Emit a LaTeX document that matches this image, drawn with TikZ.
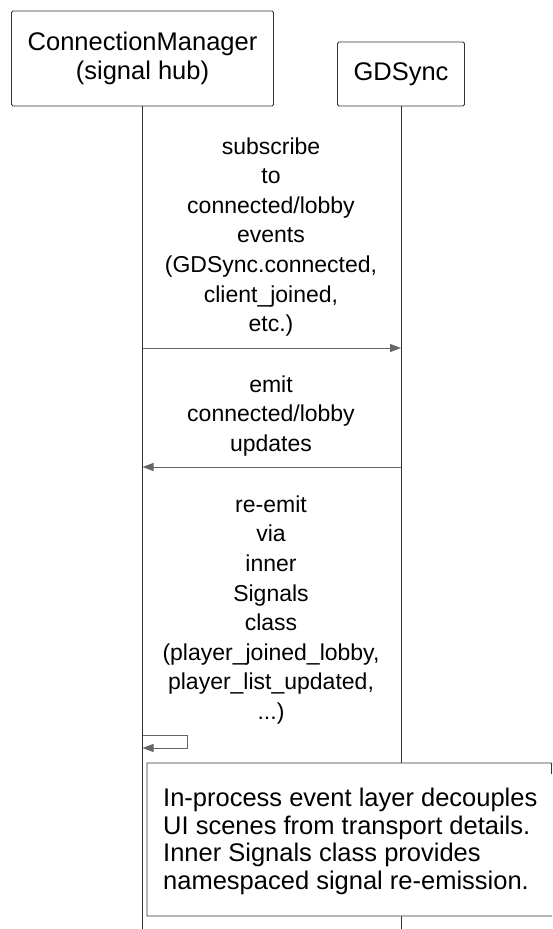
\documentclass[tikz,border=0pt]{standalone}
\usepackage{fontspec}
\setmainfont{Liberation Sans}
\usetikzlibrary{arrows.meta,calc}
\definecolor{edge}{HTML}{333333}
\definecolor{wire}{HTML}{666666}
\tikzset{
  actor/.style={draw=edge, line width=0.9pt, rounded corners=1.5pt, fill=white,
    align=center, inner sep=0pt, font=\fontsize{25.5}{29}\selectfont},
  lifeline/.style={draw=edge, line width=0.9pt},
  msg/.style={draw=wire, line width=0.9pt, -{Triangle[length=11pt,width=8pt]}},
  msglabel/.style={align=center, inner sep=0pt, font=\fontsize{23}{29.6}\selectfont},
  notebox/.style={draw=edge, line width=0.9pt, fill=white},
  notetext/.style={align=left, inner sep=0pt, anchor=north west, font=\fontsize{25.5}{27.5}\selectfont}
}
\begin{document}
\begin{tikzpicture}[x=1pt,y=-1pt]
  \useasboundingbox (0,0) rectangle (552,929);
  \clip (0,0) rectangle (552,929);

  % participants
  \node[actor, minimum width=262pt, minimum height=95pt] (cm) at (142.5,58.5)
    {ConnectionManager\\(signal hub)};
  \node[actor, minimum width=127pt, minimum height=64pt] (gd) at (401,74) {GDSync};

  % lifeline ends
  \coordinate (cmEnd) at (cm.south |- 0,929);
  \coordinate (gdEnd) at (gd.south |- 0,929);
  \draw[lifeline] (cm.south) -- (cmEnd);
  \draw[lifeline] (gd.south) -- (gdEnd);

  % message anchor points on the lifelines
  \coordinate (m1a) at (cm.south |- 0,348);
  \coordinate (m1b) at (gd.south |- 0,348);
  \coordinate (m2a) at (gd.south |- 0,467);
  \coordinate (m2b) at (cm.south |- 0,467);
  \coordinate (s0) at (cm.south |- 0,735);
  \coordinate (s1) at (187,735);
  \coordinate (s2) at (187,748);
  \coordinate (s3) at (cm.south |- 0,748);

  % subscribe
  \node[msglabel] (l1) at (271,237)
    {subscribe\\to\\connected/lobby\\events\\(GDSync.connected,\\client\_joined,\\etc.)};
  \draw[msg] (m1a) -- (m1b);

  % emit updates
  \node[msglabel] (l2) at (271,416) {emit\\connected/lobby\\updates};
  \draw[msg] (m2a) -- (m2b);

  % self message: re-emit
  \node[msglabel] (l3) at (271,610)
    {re-emit\\via\\inner\\Signals\\class\\(player\_joined\_lobby,\\player\_list\_updated,\\...)};
  \draw[msg] (s0) -- (s1) -- (s2) -- (s3);

  % note with folded corner
  \draw[notebox] (147,763) -- (551,763) -- (561,773) -- (561,916) -- (147,916) -- cycle;
  \draw[notebox, fill=none] (551,763) -- (551,773) -- (561,773);
  \node[notetext] (note) at (163,788)
    {In-process event layer decouples\\UI scenes from transport details.\\Inner Signals class provides\\namespaced signal re-emission.};
\end{tikzpicture}
\end{document}
